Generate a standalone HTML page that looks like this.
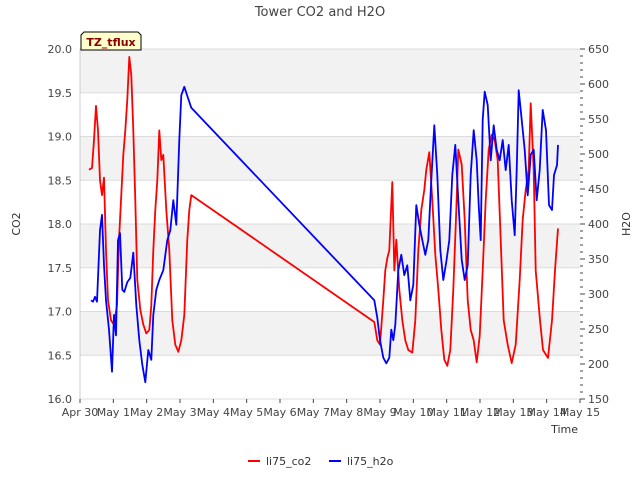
<!DOCTYPE html>
<html><head><meta charset="utf-8"><style>
body{margin:0;background:#fff;font-family:"Liberation Sans","DejaVu Sans",sans-serif;}
svg text{font-family:"DejaVu Sans","Liberation Sans",sans-serif;}
</style></head><body>
<svg id="c" width="640" height="480" xmlns="http://www.w3.org/2000/svg"></svg>
<script>
const xTickLabels=["Apr 30","May 1","May 2","May 3","May 4","May 5","May 6","May 7","May 8","May 9","May 10","May 11","May 12","May 13","May 14","May 15"];
const leftTicks=[16.0,16.5,17.0,17.5,18.0,18.5,19.0,19.5,20.0];
const rightTicks=[150,200,250,300,350,400,450,500,550,600,650];
const co2Days=[0.27,0.36,0.42,0.48,0.54,0.6,0.66,0.72,0.78,0.84,0.93,1.02,1.11,1.17,1.23,1.3,1.36,1.42,1.48,1.54,1.6,1.66,1.72,1.81,1.9,1.99,2.08,2.14,2.2,2.26,2.32,2.38,2.44,2.5,2.59,2.68,2.77,2.86,2.95,3.04,3.13,3.22,3.28,3.34,
8.83,8.92,9.0,9.1,9.16,9.22,9.28,9.37,9.43,9.49,9.58,9.67,9.76,9.85,9.97,10.06,10.15,10.24,10.33,10.39,10.48,10.57,10.66,10.75,10.84,10.93,11.02,11.11,11.2,11.29,11.35,11.45,11.54,11.63,11.72,11.81,11.9,11.99,12.08,12.17,12.26,12.35,12.44,12.53,12.62,12.71,12.83,12.95,13.07,13.19,13.28,13.37,13.46,13.52,13.61,13.67,13.8,13.89,14.04,14.16,14.25,14.34];
const co2Vals=[18.62,18.64,18.96,19.35,19.07,18.5,18.33,18.53,17.7,17.13,16.9,16.85,17.07,17.82,18.27,18.79,19.07,19.42,19.91,19.7,19.07,18.27,17.36,17.02,16.85,16.75,16.79,17.07,17.7,18.16,18.5,19.07,18.73,18.79,18.16,17.7,16.9,16.62,16.54,16.67,16.96,17.82,18.16,18.33,
16.88,16.67,16.62,17.13,17.47,17.61,17.7,18.48,17.47,17.82,17.25,16.9,16.67,16.56,16.53,16.9,17.7,18.16,18.39,18.62,18.82,18.27,17.65,17.25,16.79,16.45,16.38,16.56,17.25,18.16,18.85,18.68,18.05,17.13,16.79,16.67,16.42,16.72,17.47,18.27,18.85,19.02,18.96,18.73,17.82,16.9,16.62,16.41,16.62,17.36,18.05,18.39,18.62,19.38,18.62,17.47,16.9,16.56,16.47,16.9,17.47,17.95];
const h2oDays=[0.33,0.39,0.45,0.51,0.6,0.66,0.72,0.78,0.87,0.96,1.02,1.08,1.14,1.2,1.27,1.33,1.42,1.51,1.6,1.69,1.78,1.87,1.96,2.05,2.14,2.2,2.29,2.38,2.5,2.62,2.71,2.8,2.89,2.98,3.04,3.13,3.22,3.34,
8.83,8.92,9.0,9.1,9.19,9.28,9.34,9.4,9.46,9.55,9.64,9.73,9.82,9.91,10.0,10.09,10.18,10.27,10.36,10.45,10.54,10.63,10.72,10.81,10.9,10.99,11.08,11.17,11.26,11.35,11.45,11.54,11.63,11.72,11.81,11.9,11.96,12.02,12.08,12.14,12.23,12.32,12.41,12.5,12.59,12.68,12.77,12.86,12.95,13.04,13.1,13.16,13.25,13.34,13.43,13.52,13.61,13.7,13.79,13.88,13.98,14.07,14.16,14.22,14.31,14.34];
const h2oVals=[291,289,296,289,391,413,341,291,249,189,270,241,377,387,306,303,317,323,359,284,234,199,174,220,206,270,306,320,334,377,391,434,399,520,584,596,583,566,
291,266,234,209,201,209,249,234,256,334,356,327,341,291,313,427,399,377,356,377,463,541,470,363,320,346,377,470,513,434,349,320,341,470,534,491,427,377,549,589,570,491,541,506,491,520,477,513,434,384,477,591,549,506,441,499,506,434,477,563,534,427,420,470,484,513];

const svg=document.getElementById('c');const NS="http://www.w3.org/2000/svg";
const L=80,R=580,T=49,B=399;
const xs=d=>L+d*(R-L)/15;
const yl=v=>B-(v-16)*(B-T)/4;
const yr=v=>B-(v-150)*(B-T)/500;
function mk(tag,attrs,text){const e=document.createElementNS(NS,tag);for(const k in attrs)e.setAttribute(k,attrs[k]);if(text!==undefined)e.textContent=text;svg.appendChild(e);return e;}
for(let i=0;i<8;i++){const v0=16+i*0.5;
 if(i%2===1){const b=mk('rect',{x:L,y:yl(v0+0.5),width:R-L,height:yl(v0)-yl(v0+0.5),fill:'#f2f2f2'});
 
 }}
leftTicks.forEach(v=>{const g=mk('line',{x1:L,x2:R,y1:yl(v),y2:yl(v),stroke:'#dcdcdc','stroke-width':1});
 
 
 const t=mk('text',{x:L-8,y:yl(v)+4,'text-anchor':'end','font-size':11,fill:'#444'},v.toFixed(1));
 
 });
mk('line',{x1:L,x2:L,y1:T,y2:B,stroke:'#ccc'});
rightTicks.forEach(v=>{const t=mk('text',{x:R+8,y:yr(v)+4,'font-size':11,fill:'#444'},v);
 
 });
for(let v=150;v<=650;v+=10){const major=v%50===0;mk('line',{x1:R,x2:R+(major?5:3),y1:yr(v),y2:yr(v),stroke:'#444'});}
xTickLabels.forEach((s,i)=>{mk('line',{x1:xs(i),x2:xs(i),y1:B,y2:B+4,stroke:'#444'});
 const t=mk('text',{x:xs(i),y:B+17,'text-anchor':'middle','font-size':11,fill:'#444'},s);
 
 });
function path(ds,vs,yf,color,name){let segs=[];
 for(let i=0;i<ds.length;i++){segs.push((i?'L':'M')+xs(ds[i]).toFixed(1)+','+yf(vs[i]).toFixed(1));}
 const p=mk('path',{d:segs.join(''),fill:'none',stroke:color,'stroke-width':1.8,'stroke-linejoin':'round'});
 
 }
path(co2Days,co2Vals,yl,'#ff0000','li75-co2-line');
path(h2oDays,h2oVals,yr,'#0000ff','li75-h2o-line');
const tt=mk('text',{x:320,y:16,'text-anchor':'middle','font-size':13,fill:'#444'},'Tower CO2 and H2O');

const a1=mk('text',{x:20,y:224,'text-anchor':'middle','font-size':11,fill:'#333',transform:'rotate(-90 20 224)'},'CO2');

const a2=mk('text',{x:630,y:224,'text-anchor':'middle','font-size':11,fill:'#333',transform:'rotate(-90 630 224)'},'H2O');

const a3=mk('text',{x:578,y:433,'text-anchor':'end','font-size':11,fill:'#333'},'Time');

const bx=mk('path',{d:'M81,50 L81,35 L84,32 L138,32 L141,35 L141,50 Z',fill:'#ffffcc',stroke:'#000','stroke-width':1});

const bt=mk('text',{x:111,y:46,'text-anchor':'middle','font-size':11,'font-weight':'bold',fill:'#8b0000'},'TZ_tflux');

mk('line',{x1:248,x2:260,y1:461,y2:461,stroke:'#ff0000','stroke-width':2});
const l1=mk('text',{x:266,y:465,'font-size':11,fill:'#333'},'li75_co2');

mk('line',{x1:329,x2:341,y1:461,y2:461,stroke:'#0000ff','stroke-width':2});
const l2=mk('text',{x:347,y:465,'font-size':11,fill:'#333'},'li75_h2o');

</script>
</body></html>
